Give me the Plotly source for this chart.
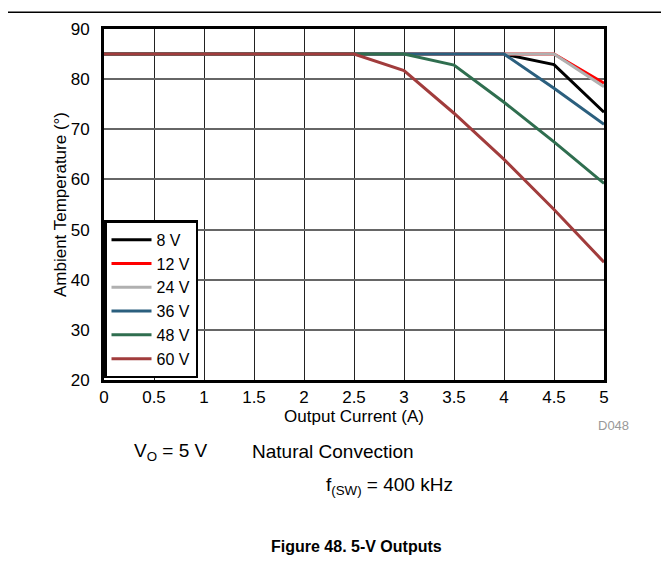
import plotly.graph_objects as go

# output current (A)
current = [0, 0.5, 1, 1.5, 2, 2.5, 3, 3.5, 4, 4.5, 5]
current_labels = ["0", "0.5", "1", "1.5", "2", "2.5", "3", "3.5", "4", "4.5", "5"]

# ambient temperature (deg) per input voltage
t_8v = [85, 85, 85, 85, 85, 85, 85, 85, 85, 82.9, 73.4]
t_12v = [85, 85, 85, 85, 85, 85, 85, 85, 85, 85, 79.2]
t_24v = [85, 85, 85, 85, 85, 85, 85, 85, 85, 85, 78.5]
t_36v = [85, 85, 85, 85, 85, 85, 85, 85, 85, 78.2, 71.0]
t_48v = [85, 85, 85, 85, 85, 85, 85, 82.8, 75.4, 67.5, 59.2]
t_60v = [85, 85, 85, 85, 85, 85, 81.7, 73.2, 64.0, 54.0, 43.5]

series = [
    ("8 V", t_8v, "#000000"),
    ("12 V", t_12v, "#ff0000"),
    ("24 V", t_24v, "#b0b0b0"),
    ("36 V", t_36v, "#2b5f7e"),
    ("48 V", t_48v, "#2f6e4f"),
    ("60 V", t_60v, "#a13c3c"),
]

fig = go.Figure()
for name, vals, color in series:
    fig.add_trace(go.Scatter(x=current, y=vals, name=name, mode="lines",
                             line=dict(color=color, width=3)))

font = "Liberation Sans, Arial, sans-serif"

# the page body adds ~8px offset, so margins are shifted to compensate
fig.update_layout(
    width=669, height=581,
    margin=dict(l=96, r=73, t=16, b=209),
    plot_bgcolor="white", paper_bgcolor="white",
    font=dict(family=font, size=17, color="black"),
    showlegend=True,
    legend=dict(x=0, y=0.005, xanchor="left", yanchor="bottom",
                bgcolor="white", bordercolor="black", borderwidth=2.5,
                font=dict(size=16), tracegroupgap=0, itemwidth=40,
                entrywidth=64),
)

fig.update_xaxes(
    range=[0, 5], tickvals=current, ticktext=current_labels,
    showgrid=True, gridcolor="#222222", gridwidth=1,
    showline=True, linecolor="black", linewidth=3, mirror=True,
    ticks="", title=dict(text="Output Current (A)", standoff=2, font=dict(size=17)),
    zeroline=False,
)
fig.update_yaxes(
    range=[20, 90], dtick=10,
    showgrid=True, gridcolor="#666666", gridwidth=1.5,
    showline=True, linecolor="black", linewidth=3, mirror=True,
    ticks="", ticklabelstandoff=8,
    title=dict(text="Ambient Temperature (°)", standoff=0, font=dict(size=17)),
    zeroline=False,
)

# top rule
fig.add_shape(type="line", xref="paper", yref="paper", x0=-0.21, x1=1.14,
              y0=1.048, y1=1.048, line=dict(color="black", width=1.5))

notes = [
    ("D048", 0.984, -0.129, 13, "#999999", "left"),
    ("V<sub>O</sub> = 5 V", 0.056, -0.205, 19, "black", "left"),
    ("Natural Convection", 0.292, -0.205, 19, "black", "left"),
    ("f<sub>(SW)</sub> = 400 kHz", 0.44, -0.303, 19, "black", "left"),
    ("<b>Figure 48. 5-V Outputs</b>", 0.504, -0.475, 16, "black", "center"),
]
for text, x, y, size, color, anchor in notes:
    fig.add_annotation(text=text, x=x, y=y, xref="paper", yref="paper",
                       showarrow=False, xanchor=anchor, yanchor="middle",
                       font=dict(size=size, color=color, family=font))

fig.write_html("out.html")
